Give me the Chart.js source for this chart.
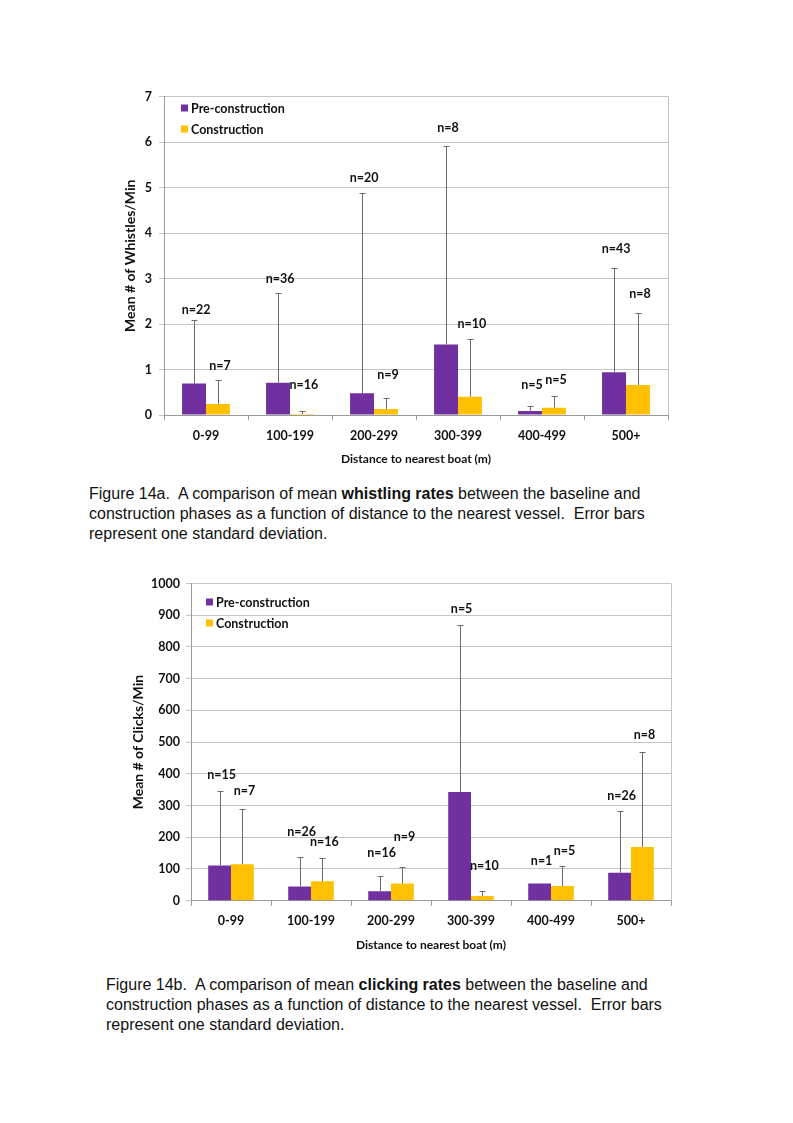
<!DOCTYPE html>
<html><head><meta charset="utf-8">
<script src="https://cdn.jsdelivr.net/npm/chart.js@4.4.1/dist/chart.umd.min.js"></script>
<style>
html,body{margin:0;padding:0;background:#fff;}
body{width:793px;height:1123px;position:relative;overflow:hidden;}
.cw{position:absolute;width:580px;height:390px;}
.cap{position:absolute;font-family:"Liberation Sans",Arial,sans-serif;font-size:16px;line-height:20px;color:#111;white-space:nowrap;}
</style></head><body>
<div class="cw" style="left:100px;top:80px"><canvas id="c1"></canvas></div>
<div class="cap" style="left:89px;top:484px">Figure 14a.&nbsp; A comparison of mean <b>whistling rates</b> between the baseline and<br>construction phases as a function of distance to the nearest vessel.&nbsp; Error bars<br>represent one standard deviation.</div>
<div class="cw" style="left:100px;top:570px"><canvas id="c2"></canvas></div>
<div class="cap" style="left:106px;top:975px">Figure 14b.&nbsp; A comparison of mean <b>clicking rates</b> between the baseline and<br>construction phases as a function of distance to the nearest vessel.&nbsp; Error bars<br>represent one standard deviation.</div>
<script>
// ---- data ----
const categories = ['0-99','100-199','200-299','300-399','400-499','500+'];
const seriesNames = ['Pre-construction','Construction'];

// Figure 14a: whistles / min
const whistlePre   = [0.69, 0.71, 0.48, 1.55, 0.09, 0.94];
const whistlePreSD = [1.40, 1.98, 4.39, 4.37, 0.11, 2.30];
const whistleCon   = [0.24, 0.02, 0.13, 0.40, 0.16, 0.66];
const whistleConSD = [0.52, 0.07, 0.24, 1.26, 0.25, 1.59];
const whistlePreN  = [22, 36, 20, 8, 5, 43];
const whistleConN  = [7, 16, 9, 10, 5, 8];
const whistlePreNAt = [2.31, 2.99, 5.21, 6.31, 0.66, 3.66];
const whistleConNAt = [1.08, 0.66, 0.88, 1.99, 0.77, 2.65];
const whistleTicks = [0,1,2,3,4,5,6,7];

// Figure 14b: clicks / min
const clickPre   = [111, 45, 30, 343, 54, 88];
const clickPreSD = [236, 94, 47, 526, 0, 196];
const clickCon   = [115, 61, 54, 15, 46, 169];
const clickConSD = [175, 75, 53, 16, 63, 299];
const clickPreN  = [15, 26, 16, 5, 1, 26];
const clickConN  = [7, 16, 9, 10, 5, 8];
const clickPreNAt = [397, 216, 152, 920, 125, 331];
const clickConNAt = [345, 184, 200, 109, 157, 521];
const clickTicks = [0,100,200,300,400,500,600,700,800,900,1000];

const PURPLE = '#7030A0', GOLD = '#FFC000';
const FONT = 'Lato, "Open Sans", sans-serif';
const GRID = '#c4c4c4';
const INK = '#111111';

const extrasPlugin = {
  id: 'extras',
  afterDatasetsDraw(chart) {
    const o = chart.options.plugins.extras;
    const ctx = chart.ctx, y = chart.scales.y, a = chart.chartArea;
    ctx.save();
    // right border of plot area
    ctx.strokeStyle = GRID; ctx.lineWidth = 1;
    ctx.beginPath(); ctx.moveTo(Math.round(a.right)+0.5, a.top); ctx.lineTo(Math.round(a.right)+0.5, a.bottom); ctx.stroke();
    // error bars (plus direction) and n labels
    chart.data.datasets.forEach((ds, di) => {
      const meta = chart.getDatasetMeta(di);
      meta.data.forEach((bar, i) => {
        const sd = ds.sd[i];
        if (sd > 0) {
          const x = Math.round(bar.x) + 0.5;
          const y0 = y.getPixelForValue(ds.data[i]);
          const y1 = Math.round(y.getPixelForValue(ds.data[i] + sd)) + 0.5;
          ctx.strokeStyle = '#6b6b6b'; ctx.lineWidth = 1;
          ctx.beginPath(); ctx.moveTo(x, y0); ctx.lineTo(x, y1);
          ctx.moveTo(x - 3, y1); ctx.lineTo(x + 3, y1); ctx.stroke();
        }
        ctx.fillStyle = INK;
        ctx.font = 'bold 12.5px ' + FONT;
        ctx.textAlign = 'center'; ctx.textBaseline = 'middle';
        ctx.fillText('n=' + ds.n[i], bar.x + 2, y.getPixelForValue(ds.nAt[i]));
      });
    });
    // legend inside plot area
    chart.data.datasets.forEach((ds, di) => {
      const lx = a.left + o.legendDx, ly = a.top + o.legendDy + di * 21;
      ctx.fillStyle = ds.backgroundColor;
      ctx.fillRect(lx, ly - 4, 7, 7);
      ctx.fillStyle = INK;
      ctx.font = 'bold 12.5px ' + FONT;
      ctx.textAlign = 'left'; ctx.textBaseline = 'middle';
      ctx.fillText(ds.label, lx + 10, ly);
    });
    ctx.restore();
  }
};

function makeChart(id, g, pre, preSD, preN, preNAt, con, conSD, conN, conNAt, ticks, yTitle) {
  const yMax = ticks[ticks.length - 1], step = ticks[1] - ticks[0];
  return new Chart(document.getElementById(id), {
    type: 'bar',
    data: {
      labels: categories,
      datasets: [
        {label: seriesNames[0], data: pre, sd: preSD, n: preN, nAt: preNAt, backgroundColor: PURPLE, borderWidth: 0},
        {label: seriesNames[1], data: con, sd: conSD, n: conN, nAt: conNAt, backgroundColor: GOLD, borderWidth: 0}
      ]
    },
    options: {
      responsive: true, maintainAspectRatio: false, animation: false,
      devicePixelRatio: 1,
      layout: {padding: {left: 0, top: g.top, right: g.right, bottom: 0}},
      datasets: {bar: {categoryPercentage: 0.57, barPercentage: 1.0}},
      plugins: {legend: {display: false}, tooltip: {enabled: false},
        extras: {legendDx: g.legDx, legendDy: g.legDy}},
      scales: {
        x: {
          grid: {display: true, drawOnChartArea: false, drawTicks: true, tickLength: 5, color: '#9a9a9a', offset: true},
          border: {display: true, color: '#9a9a9a'},
          ticks: {font: {family: FONT, size: 12.5, weight: 'bold'}, color: INK, padding: 8, maxRotation: 0},
          title: {display: true, text: 'Distance to nearest boat (m)', font: {family: FONT, size: 12, weight: 'bold'}, color: INK, padding: {top: 0, bottom: g.xTitlePad}},
          afterFit(s) { s.height = g.xH; }
        },
        y: {
          min: 0, max: yMax,
          grid: {color: GRID, tickLength: 5, drawTicks: true},
          border: {display: true, color: '#9a9a9a'},
          ticks: {stepSize: step, font: {family: FONT, size: 12.5, weight: 'bold'}, color: INK, padding: g.yTickPad,
                  callback: (v) => String(v)},
          title: {display: true, text: yTitle, font: {family: FONT, size: 14, weight: 'bold'}, color: INK, padding: {top: g.yTitlePad, bottom: 0}},
          afterFit(s) { s.width = g.yW; }
        }
      }
    },
    plugins: [extrasPlugin]
  });
}

makeChart('c1', {top: 16.5, right: 12, xH: 55, yW: 64, xTitlePad: 4, yTitlePad: 22, yTickPad: 7, legDx: 17, legDy: 12},
  whistlePre, whistlePreSD, whistlePreN, whistlePreNAt,
  whistleCon, whistleConSD, whistleConN, whistleConNAt,
  whistleTicks, 'Mean # of Whistles/Min');

makeChart('c2', {top: 11.7, right: 9, xH: 59.3, yW: 91, xTitlePad: 8, yTitlePad: 30, yTickPad: 6, legDx: 15, legDy: 19},
  clickPre, clickPreSD, clickPreN, clickPreNAt,
  clickCon, clickConSD, clickConN, clickConNAt,
  clickTicks, 'Mean # of Clicks/Min');
</script>
</body></html>
